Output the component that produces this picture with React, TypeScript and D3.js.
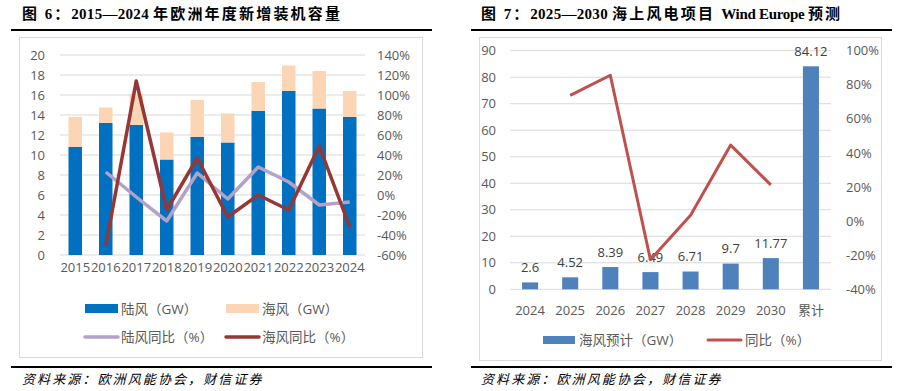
import React from "react";
import * as d3 from "d3";

// ---- Left chart data ----
const yearsL = ["2015","2016","2017","2018","2019","2020","2021","2022","2023","2024"];
const onshore = [10.8, 13.2, 13.0, 9.55, 11.8, 11.25, 14.4, 16.4, 14.65, 13.8];
const offshore = [3.0, 1.55, 3.1, 2.7, 3.7, 2.9, 2.9, 2.55, 3.75, 2.6];
const onshoreYoY: (number | null)[] = [null, 23, -2, -26, 22, -4, 28, 13, -10, -7];
const offshoreYoY: (number | null)[] = [null, -51, 114, -15, 37, -22, 0, -15, 49, -32];
const leftTicks = [0, 2, 4, 6, 8, 10, 12, 14, 16, 18, 20];
const rightTicksL = [-60, -40, -20, 0, 20, 40, 60, 80, 100, 120, 140];

// ---- Right chart data ----
const catsR = ["2024","2025","2026","2027","2028","2029","2030","累计"];
const offForecast = [2.6, 4.52, 8.39, 6.49, 6.71, 9.7, 11.77, 84.12];
const forecastYoY: (number | null)[] = [null, 73.8, 85.6, -22.6, 3.4, 44.6, 21.3, null];
const leftTicksR = [0, 10, 20, 30, 40, 50, 60, 70, 80, 90];
const rightTicksR = [-40, -20, 0, 20, 40, 60, 80, 100];

const FONT = "'Open Sans', 'Noto Sans CJK SC', sans-serif";
const CJK = "'Noto Sans CJK SC', sans-serif";
const TITLE_FONT = "'Liberation Serif', 'Noto Sans CJK SC', serif";
const GRAY = "#595959";
const GRID = "#D9D9D9";

function LeftChart() {
  const x = d3.scaleBand<string>().domain(yearsL).range([60, 365]).paddingInner(0.557).paddingOuter(0.2785);
  const yL = d3.scaleLinear().domain([0, 20]).range([255, 55]);
  const yR = d3.scaleLinear().domain([-60, 140]).range([255, 55]);
  const cx = (d: string) => (x(d) as number) + x.bandwidth() / 2;
  const line = d3.line<[string, number | null]>()
    .defined((d) => d[1] !== null)
    .x((d) => cx(d[0]))
    .y((d) => yR(d[1] as number));
  const onPts = yearsL.map((y, i) => [y, onshoreYoY[i]] as [string, number | null]);
  const offPts = yearsL.map((y, i) => [y, offshoreYoY[i]] as [string, number | null]);
  return (
    <g>
      <text x={22} y={19} fontFamily={TITLE_FONT} fontWeight="bold" fontSize={15} fill="#000">
        <tspan letterSpacing={2}>图 6：</tspan><tspan letterSpacing={0.3}>2015—2024 </tspan><tspan letterSpacing={2.2}>年欧洲年度新增装机容量</tspan>
      </text>
      <line x1={11} x2={432} y1={30} y2={30} stroke="#000" strokeWidth={2} />
      <rect x={19.5} y={37.5} width={403} height={320} fill="#fff" stroke={GRID} strokeWidth={1} />
      {leftTicks.map((t) => (
        <g key={t}>
          <line x1={60} x2={365} y1={yL(t)} y2={yL(t)} stroke={GRID} strokeWidth={1} />
          <text x={45} y={yL(t)} dy="0.35em" textAnchor="end" fontFamily={FONT} fontSize={13} fill={GRAY}>{t}</text>
        </g>
      ))}
      {rightTicksL.map((t) => (
        <text key={t} x={377} y={yR(t)} dy="0.35em" fontFamily={FONT} fontSize={13} fill={GRAY}>{t}%</text>
      ))}
      {yearsL.map((y, i) => (
        <g key={y}>
          <rect x={x(y)} y={yL(onshore[i])} width={x.bandwidth()} height={yL(0) - yL(onshore[i])} fill="#0070C0" />
          <rect x={x(y)} y={yL(onshore[i] + offshore[i])} width={x.bandwidth()} height={yL(onshore[i]) - yL(onshore[i] + offshore[i])} fill="#FCD5B5" />
          <text x={cx(y)} y={267} dy="0.35em" textAnchor="middle" fontFamily={FONT} fontSize={13} fill={GRAY}>{y}</text>
        </g>
      ))}
      <path d={line(onPts) || ""} fill="none" stroke="#B3A2C7" strokeWidth={3.5} strokeLinejoin="round" />
      <path d={line(offPts) || ""} fill="none" stroke="#953735" strokeWidth={3.5} strokeLinejoin="round" />
      {/* legend */}
      <rect x={85} y={304} width={33} height={9} fill="#0070C0" />
      <text x={121} y={309} dy="0.35em" fontFamily={FONT} fontSize={13.5} fill={GRAY}>陆风（GW）</text>
      <rect x={226} y={304} width={33} height={9} fill="#FCD5B5" />
      <text x={262} y={309} dy="0.35em" fontFamily={FONT} fontSize={13.5} fill={GRAY}>海风（GW）</text>
      <line x1={85} x2={118} y1={337} y2={337} stroke="#B3A2C7" strokeWidth={3.5} strokeLinecap="round" />
      <text x={121} y={337} dy="0.35em" fontFamily={FONT} fontSize={13.5} fill={GRAY}>陆风同比（%）</text>
      <line x1={226} x2={259} y1={337} y2={337} stroke="#953735" strokeWidth={3.5} strokeLinecap="round" />
      <text x={262} y={337} dy="0.35em" fontFamily={FONT} fontSize={13.5} fill={GRAY}>海风同比（%）</text>
      <line x1={11} x2={432} y1={367} y2={367} stroke="#000" strokeWidth={2} />
      <text x={22} y={384} fontFamily={CJK} fontStyle="italic" fontSize={13} letterSpacing={2.1} fill="#000">资料来源：欧洲风能协会，财信证券</text>
    </g>
  );
}

function RightChart() {
  const x = d3.scaleBand<string>().domain(catsR).range([510, 831]).paddingInner(0.6).paddingOuter(0.3);
  const yL = d3.scaleLinear().domain([0, 90]).range([289.3, 50.7]);
  const yR = d3.scaleLinear().domain([-40, 100]).range([289.3, 50.7]);
  const cx = (d: string) => (x(d) as number) + x.bandwidth() / 2;
  const line = d3.line<[string, number | null]>()
    .defined((d) => d[1] !== null)
    .x((d) => cx(d[0]))
    .y((d) => yR(d[1] as number));
  const pts = catsR.map((c, i) => [c, forecastYoY[i]] as [string, number | null]);
  return (
    <g>
      <text x={481} y={19} fontFamily={TITLE_FONT} fontWeight="bold" fontSize={15} fill="#000">
        <tspan letterSpacing={2}>图 7：</tspan><tspan letterSpacing={0.3}>2025—2030 </tspan><tspan letterSpacing={2.2}>海上风电项目 </tspan><tspan letterSpacing={-0.3}>Wind Europe </tspan><tspan letterSpacing={2.2}>预测</tspan>
      </text>
      <line x1={471} x2={892} y1={30} y2={30} stroke="#000" strokeWidth={2} />
      <rect x={479.5} y={37.5} width={402} height={323} fill="#fff" stroke={GRID} strokeWidth={1} />
      {leftTicksR.map((t) => (
        <g key={t}>
          <line x1={510} x2={831} y1={yL(t)} y2={yL(t)} stroke={GRID} strokeWidth={1} />
          <text x={496} y={yL(t)} dy="0.35em" textAnchor="end" fontFamily={FONT} fontSize={13} fill={GRAY}>{t}</text>
        </g>
      ))}
      {rightTicksR.map((t) => (
        <text key={t} x={846} y={yR(t)} dy="0.35em" fontFamily={FONT} fontSize={13} fill={GRAY}>{t}%</text>
      ))}
      {catsR.map((c, i) => (
        <g key={c}>
          <rect x={x(c)} y={yL(offForecast[i])} width={x.bandwidth()} height={yL(0) - yL(offForecast[i])} fill="#4F81BD" />
          <text x={cx(c)} y={yL(offForecast[i]) - 15} dy="0.35em" textAnchor="middle" fontFamily={FONT} fontSize={13} fill="#404040">{offForecast[i]}</text>
          <text x={cx(c)} y={310} dy="0.35em" textAnchor="middle" fontFamily={FONT} fontSize={13} fill={GRAY}>{c}</text>
        </g>
      ))}
      <path d={line(pts) || ""} fill="none" stroke="#C0504D" strokeWidth={3} strokeLinejoin="round" />
      {/* legend */}
      <rect x={543} y={336} width={32} height={8} fill="#4F81BD" />
      <text x={579} y={340} dy="0.35em" fontFamily={FONT} fontSize={13.5} fill={GRAY}>海风预计（GW）</text>
      <line x1={708} x2={741} y1={340} y2={340} stroke="#C0504D" strokeWidth={3} strokeLinecap="round" />
      <text x={745} y={340} dy="0.35em" fontFamily={FONT} fontSize={13.5} fill={GRAY}>同比（%）</text>
      <line x1={471} x2={892} y1={367} y2={367} stroke="#000" strokeWidth={2} />
      <text x={481} y={384} fontFamily={CJK} fontStyle="italic" fontSize={13} letterSpacing={2.1} fill="#000">资料来源：欧洲风能协会，财信证券</text>
    </g>
  );
}

export default function App() {
  return (
    <svg width={902} height={391} viewBox="0 0 902 391" style={{ position: "absolute", left: 0, top: 0, background: "#fff" }}>
      <rect x={0} y={0} width={902} height={391} fill="#fff" />
      <LeftChart />
      <RightChart />
    </svg>
  );
}
